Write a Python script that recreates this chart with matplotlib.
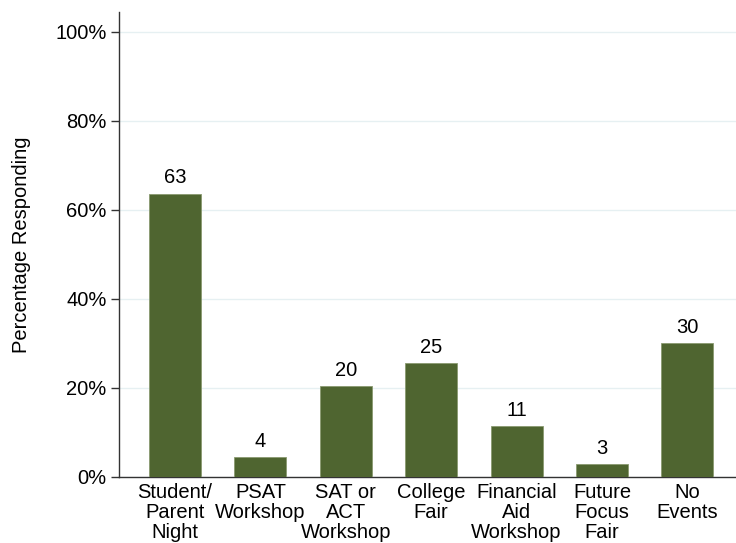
import matplotlib.pyplot as plt
import numpy as np

# data
categories = ["Student/\nParent\nNight", "PSAT\nWorkshop", "SAT or\nACT\nWorkshop",
              "College\nFair", "Financial\nAid\nWorkshop", "Future\nFocus\nFair", "No\nEvents"]
values = [63.6, 4.4, 20.3, 25.5, 11.4, 2.8, 30.0]
value_labels = ["63", "4", "20", "25", "11", "3", "30"]
yticks = [0, 20, 40, 60, 80, 100]

plt.rcParams['font.family'] = ['Liberation Sans', 'DejaVu Sans']

fig = plt.figure(figsize=(7.36, 5.43), dpi=100)
ax = fig.add_axes([0.1617, 0.1221, 0.8383, 0.8559])

x = np.arange(len(categories))
ax.bar(x, values, width=0.61, color="#4f6530", edgecolor="#8a9a70",
       linewidth=0.6, zorder=3)

# value labels just above each bar
for xi, v, lab in zip(x, values, value_labels):
    ax.annotate(lab, (xi, v), xytext=(0, 7.5), textcoords="offset points",
                ha="center", va="baseline", fontsize=14.5)

ax.set_xlim(-0.656, 6.57)
ax.set_ylim(0, 104.4)
ax.set_yticks(yticks)
ax.set_yticklabels([f"{t}%" for t in yticks], fontsize=14.5)
ax.set_xticks(x)
ax.set_xticklabels(categories, fontsize=14.5, linespacing=1.08)
ax.tick_params(axis="x", length=0, pad=4.5)
ax.tick_params(axis="y", length=6, width=1, color="#333333", pad=3)

ax.grid(axis="y", color="#e6f0f2", linewidth=1, zorder=0)
ax.set_axisbelow(True)
for s in ["top", "right"]:
    ax.spines[s].set_visible(False)
for s in ["left", "bottom"]:
    ax.spines[s].set_color("#333333")
    ax.spines[s].set_linewidth(1)

ax.set_ylabel("Percentage Responding", fontsize=14.5)
ax.yaxis.set_label_coords(-0.142, 0.5)

fig.savefig("out.png", dpi=100)
